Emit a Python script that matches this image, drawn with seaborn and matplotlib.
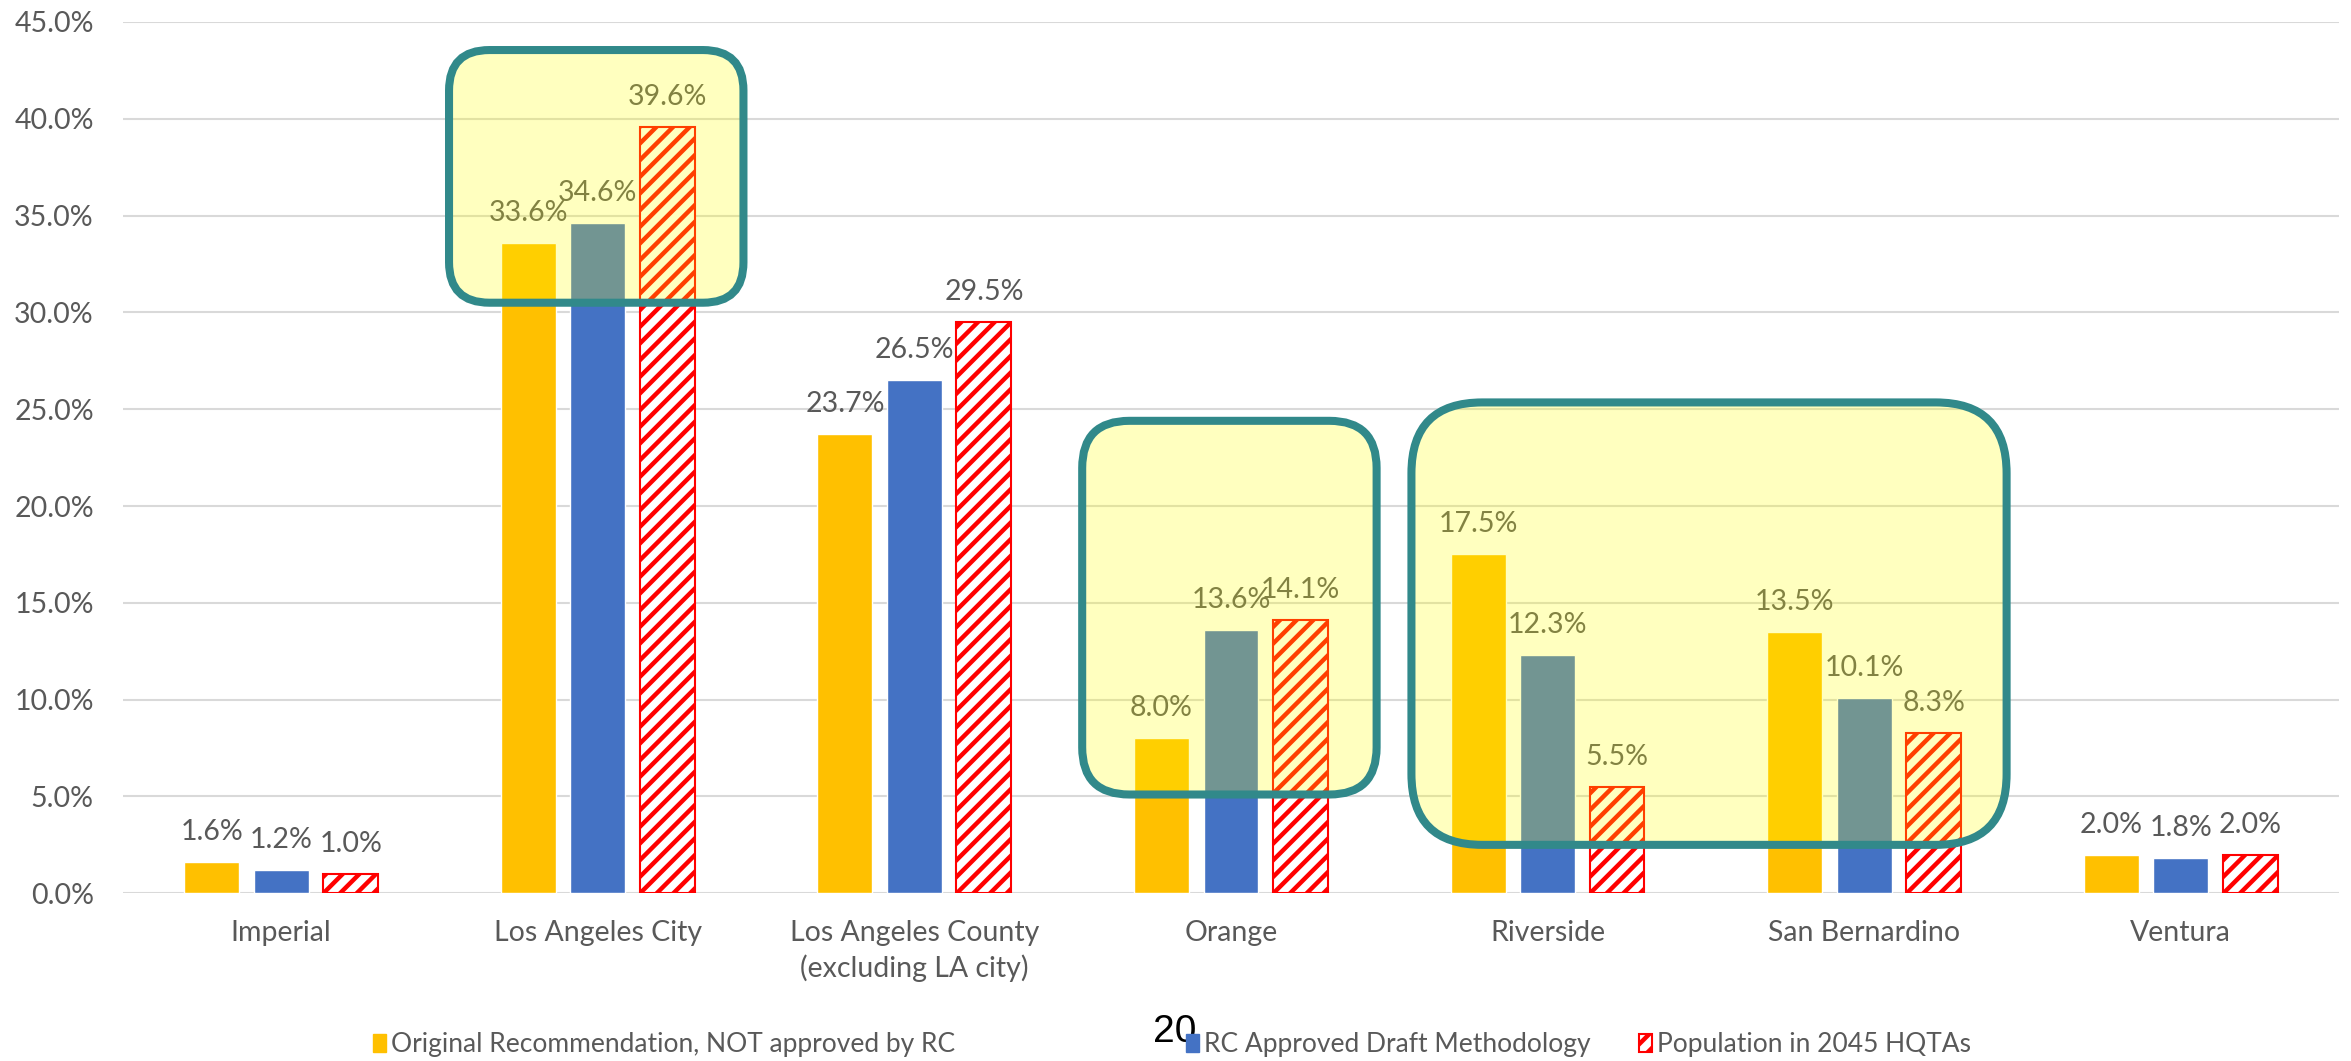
import matplotlib
matplotlib.use("Agg")
import matplotlib.pyplot as plt
from matplotlib.patches import FancyBboxPatch, Patch
from matplotlib.ticker import StrMethodFormatter
from matplotlib.transforms import IdentityTransform
import seaborn as sns
import pandas as pd

# data (percent of regional total)
counties = ["Imperial", "Los Angeles City", "Los Angeles County\n(excluding LA city)",
            "Orange", "Riverside", "San Bernardino", "Ventura"]
original_rec = [1.6, 33.6, 23.7, 8.0, 17.5, 13.5, 2.0]
rc_approved = [1.2, 34.6, 26.5, 13.6, 12.3, 10.1, 1.8]
pop_hqta = [1.0, 39.6, 29.5, 14.1, 5.5, 8.3, 2.0]
series_names = ["Original Recommendation, NOT approved by RC",
                "RC Approved Draft Methodology",
                "Population in 2045 HQTAs"]

# highlight boxes: x from / x to (category units), y bottom / y top (%)
highlights = [(0.53, 1.46, 30.5, 43.55),
              (2.53, 3.46, 5.1, 24.4),
              (3.57, 5.45, 2.5, 25.35)]

df = pd.DataFrame({
    "county": counties * 3,
    "series": [s for s in series_names for _ in counties],
    "value": original_rec + rc_approved + pop_hqta,
})

sns.set_theme(style="white")
plt.rcParams["font.family"] = ["Lato", "DejaVu Sans"]
plt.rcParams["hatch.linewidth"] = 3.2

grey = "#595959"
fs = 20.5

fig = plt.figure(figsize=(23.51, 10.61), dpi=100)
ax = fig.add_axes([0.0523, 0.1581, 0.9426, 0.8212])

sns.barplot(data=df, x="county", y="value", hue="series",
            palette=["#FFC000", "#4472C4", "#FFFFFF"], saturation=1,
            width=0.6585, gap=0.21, legend=False, ax=ax)

# hatched red bars for HQTA population
for bar in ax.containers[2]:
    bar.set_edgecolor("#FF0000")
    bar.set_hatch("//")
    bar.set_linewidth(1.5)

# value labels
for cont in ax.containers:
    for bar in cont:
        h = bar.get_height()
        ax.annotate(f"{h:.1f}%", (bar.get_x() + bar.get_width() / 2, h),
                    xytext=(0, 22), textcoords="offset pixels",
                    ha="center", va="baseline", fontsize=fs, color=grey)

ax.set_ylim(0, 45)
ax.set_xlim(-0.5, 6.5)
ax.set_yticks(range(0, 50, 5))
ax.yaxis.set_major_formatter(StrMethodFormatter("{x:.1f}%"))
ax.set_xlabel("")
ax.set_ylabel("")
ax.yaxis.grid(True, color="#D9D9D9", linewidth=1.5)
ax.xaxis.grid(False)
ax.set_axisbelow(True)
sns.despine(ax=ax, left=True, bottom=True)
ax.tick_params(axis="y", length=0, pad=21, labelsize=fs, labelcolor=grey)
ax.tick_params(axis="x", length=0, pad=19, labelsize=fs, labelcolor=grey)
for lbl in ax.get_xticklabels():
    lbl.set_linespacing(1.4)

# highlight boxes (drawn in pixel space so corners stay round)
for x0, x1, y0, y1 in highlights:
    (px0, py0), (px1, py1) = ax.transData.transform([(x0, y0), (x1, y1)])
    w, h = px1 - px0, py1 - py0
    r = 0.16 * min(w, h)
    box = FancyBboxPatch((px0, py0), w, h,
                         boxstyle=f"round,pad=0,rounding_size={r}",
                         transform=IdentityTransform(),
                         facecolor=(1, 1, 0, 0.25), edgecolor="#31898A",
                         linewidth=5.8, zorder=5)
    fig.add_artist(box)

# legend, one entry at a time to keep the slide spacing
handles = [Patch(facecolor="#FFC000", edgecolor="#FFC000"),
           Patch(facecolor="#4472C4", edgecolor="#4472C4"),
           Patch(facecolor="white", edgecolor="#FF0000", hatch="//", linewidth=1.5)]
W = 2351
for hnd, name, xl in zip(handles, series_names, [373, 1186, 1639]):
    fig.legend(handles=[hnd], labels=[name], loc="center left",
               bbox_to_anchor=(xl / W, 0.0151), frameon=False, borderpad=0,
               borderaxespad=0, handlelength=0.5, handleheight=0.7,
               handletextpad=0.2, fontsize=19, labelcolor=grey)

# slide page number
fig.text(1175 / W, 1 - 1032 / 1061, "20", fontsize=28, color="black",
         family="Liberation Sans", ha="center", va="center")

fig.savefig("out.png", dpi=100)
